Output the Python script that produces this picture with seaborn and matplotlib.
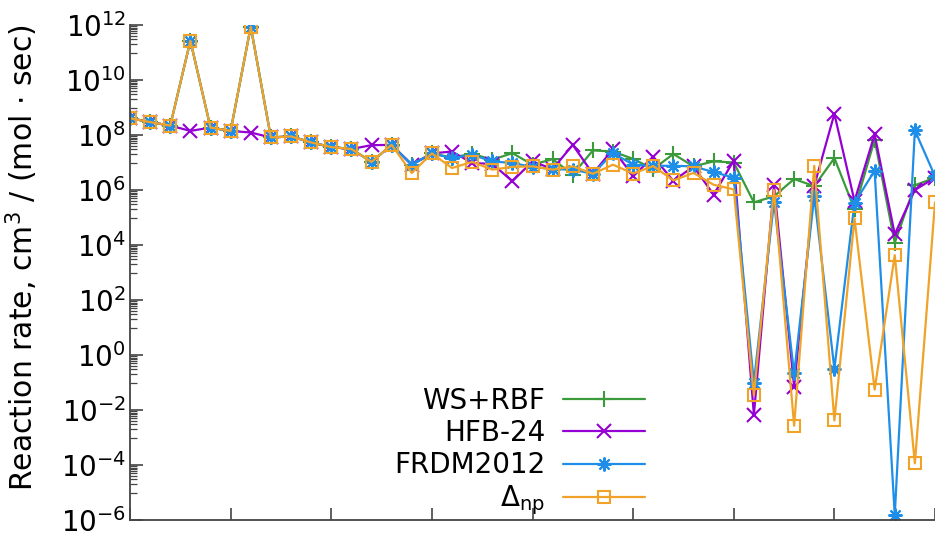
import numpy as np
import pandas as pd
import matplotlib
matplotlib.use("Agg")
import matplotlib.pyplot as plt
from matplotlib.ticker import FixedLocator, FuncFormatter, NullFormatter
import seaborn as sns

# ---------------- data ----------------
x_index = list(range(41))

ws_rbf = [4.07e8, 2.95e8, 2.19e8, 2.69e11, 1.86e8, 1.41e8, 8.71e11, 8.13e7, 8.91e7, 5.37e7,
          3.63e7, 3.09e7, 1.05e7, 4.37e7, 8.32e6, 2.14e7, 1.51e7, 2.09e7, 1.26e7, 2.19e7,
          8.32e6, 1.32e7, 3.63e6, 2.75e7, 2.51e7, 1.35e7, 5.75e6, 2.04e7, 7.24e6, 1.10e7,
          1.00e7, 3.55e5, 5.89e5, 2.51e6, 1.38e6, 1.45e7, 2.00e5, 6.76e7, 1.20e4, 1.48e6,
          2.82e6]

hfb24 = [4.07e8, 2.95e8, 2.19e8, 1.41e8, 1.86e8, 1.41e8, 1.23e8, 8.13e7, 8.91e7, 5.37e7,
         3.63e7, 3.09e7, 4.27e7, 4.37e7, 8.32e6, 2.14e7, 2.51e7, 9.55e6, 8.91e6, 2.09e6,
         1.10e7, 5.75e6, 4.37e7, 3.89e6, 3.09e7, 3.16e6, 1.62e7, 2.14e6, 7.24e6, 6.76e5,
         1.17e7, 6.61e-3, 1.48e6, 7.08e-2, 1.41e6, 5.89e8, 3.98e5, 1.05e8, 2.45e4, 1.00e6,
         2.82e6]

frdm2012 = [4.07e8, 2.95e8, 2.19e8, 2.69e11, 1.86e8, 1.41e8, 8.71e11, 8.13e7, 8.91e7, 5.37e7,
            3.63e7, 3.09e7, 1.05e7, 4.37e7, 8.32e6, 2.14e7, 1.45e7, 1.91e7, 1.10e7, 9.55e6,
            6.92e6, 5.75e6, 5.50e6, 3.89e6, 2.19e7, 8.32e6, 7.59e6, 7.59e6, 7.24e6, 4.47e6,
            2.82e6, 1.00e-1, 3.72e5, 2.14e-1, 5.89e5, 3.16e-1, 3.39e5, 5.01e6, 1.51e-6, 1.48e8,
            3.16e6]

delta_np = [4.07e8, 2.95e8, 2.19e8, 2.69e11, 1.86e8, 1.41e8, 8.71e11, 8.13e7, 8.91e7, 5.37e7,
            3.63e7, 3.09e7, 1.05e7, 4.37e7, 4.17e6, 2.14e7, 6.31e6, 1.05e7, 5.50e6, 6.92e6,
            7.24e6, 5.50e6, 7.24e6, 3.89e6, 8.32e6, 3.98e6, 7.41e6, 2.24e6, 4.17e6, 1.55e6,
            1.05e6, 3.39e-2, 1.00e6, 2.69e-3, 7.59e6, 4.17e-3, 9.33e4, 5.50e-2, 4.27e3, 1.15e-4,
            3.55e5]

model_names = ["WS+RBF", "HFB-24", "FRDM2012", r"$\Delta_{\mathrm{np}}$"]
model_values = [ws_rbf, hfb24, frdm2012, delta_np]

y_tick_exponents = [-6, -4, -2, 0, 2, 4, 6, 8, 10, 12]
x_tick_positions = [0, 5, 10, 15, 20, 25, 30, 35, 40]

# ---------------- style ----------------
colors = ["#3b9b3b", "#9400d3", "#1f8ee8", "#f0a328"]
markers = ["+", "x", (8, 2, 0), "s"]
msizes = [12, 10, 10, 9]

frames = []
for name, vals in zip(model_names, model_values):
    frames.append(pd.DataFrame({"x": x_index, "rate": vals, "model": name}))
df = pd.concat(frames, ignore_index=True)

sns.set_theme(style="ticks")
plt.rcParams["font.family"] = ["DejaVu Sans"]
plt.rcParams["mathtext.fontset"] = "dejavusans"
plt.rcParams["text.color"] = "black"
plt.rcParams["axes.labelcolor"] = "black"

fig = plt.figure(figsize=(9.35, 5.33), dpi=100)
ax = fig.add_axes([130 / 935, 13 / 533, 805 / 935, 495 / 533])
ax.set_yscale("log")

for name, c, m, ms in zip(model_names, colors, markers, msizes):
    sub = df[df["model"] == name]
    kw = dict(markeredgecolor=c, markeredgewidth=1.5)
    if m == "s":
        kw["markerfacecolor"] = "none"
    sns.lineplot(data=sub, x="x", y="rate", ax=ax, color=c, marker=m, markersize=ms,
                 linewidth=1.6, label=name, **kw)

ax.set_xlim(0, 40)
ax.set_ylim(1e-6, 1e12)

ax.yaxis.set_major_locator(FixedLocator([10.0 ** e for e in y_tick_exponents]))
ax.yaxis.set_major_formatter(FuncFormatter(lambda v, p: r"$10^{%d}$" % int(round(np.log10(v)))))
minor = [m * 10.0 ** (e + 1) for e in y_tick_exponents[:-1] for m in range(1, 10)]
ax.yaxis.set_minor_locator(FixedLocator(minor))
ax.yaxis.set_minor_formatter(NullFormatter())

ax.xaxis.set_major_locator(FixedLocator(x_tick_positions))
ax.xaxis.set_major_formatter(NullFormatter())
ax.xaxis.set_minor_locator(FixedLocator([]))

ax.tick_params(axis="both", which="major", direction="in", length=9, width=1.2,
               color="#444444", labelsize=20, pad=3, labelcolor="black")
ax.tick_params(axis="y", which="minor", direction="in", length=5, width=0.9, color="#444444")
ax.tick_params(axis="x", which="both", top=False)
ax.tick_params(axis="y", which="both", right=False)

for s in ["top", "right"]:
    ax.spines[s].set_visible(False)
for s in ["left", "bottom"]:
    ax.spines[s].set_color("#444444")
    ax.spines[s].set_linewidth(1.3)

ax.set_xlabel("")
ax.set_ylabel(r"Reaction rate, cm$^{3}$ / (mol $\cdot$ sec)", fontsize=21.5, va="center")
ax.yaxis.set_label_coords(-0.134, 0.53)

leg = ax.legend(loc="lower right", bbox_to_anchor=(0.64, 0.006), frameon=False,
                markerfirst=False, handlelength=2.95, handletextpad=0.65,
                labelspacing=0.15, borderpad=0.0, borderaxespad=0.0, fontsize=20)

fig.savefig("out.png", dpi=100)
